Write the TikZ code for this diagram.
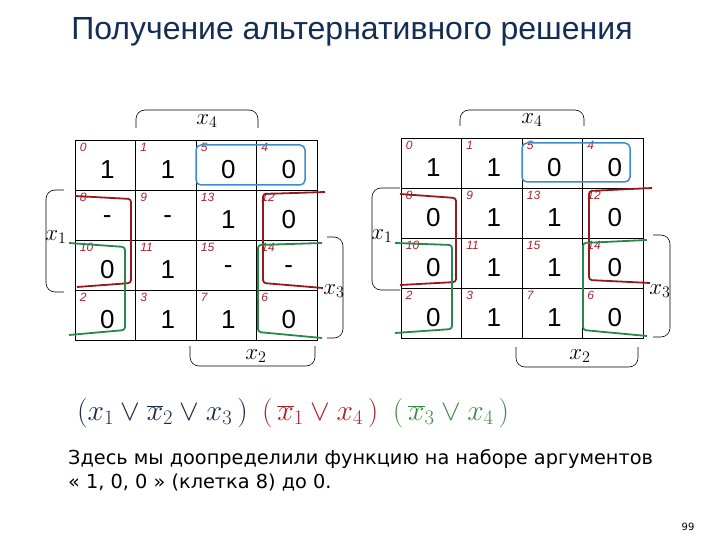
\RequirePackage{fix-cm}
\documentclass[tikz,border=0pt]{standalone}
\usepackage{fontspec}
\setmainfont{Liberation Sans}
\newfontfamily\notefont{DejaVu Sans}
\usepackage{tikz}
\usetikzlibrary{positioning}
\definecolor{titleblue}{RGB}{20,45,85}
\definecolor{idxred}{RGB}{175,35,45}
\definecolor{grpred}{RGB}{150,25,30}
\definecolor{grpgreen}{RGB}{40,135,75}
\definecolor{grpblue}{RGB}{60,140,210}
\definecolor{fnavy}{RGB}{25,40,75}
\definecolor{fred}{RGB}{175,30,35}
\definecolor{fgreen}{RGB}{60,140,70}
\tikzset{
    cell/.style={draw, line width=0.6pt, minimum width=60.5pt, minimum height=50pt, inner sep=0pt},
    idxnum/.style={anchor=north west, xshift=5pt, yshift=-3pt, inner sep=0pt, text=idxred, font=\fontsize{12}{12}\selectfont\itshape},
    val/.style={xshift=2pt, yshift=-5pt, font=\fontsize{26}{26}\selectfont},
    brace/.style={line width=0.6pt, rounded corners=9pt},
    varlab/.style={font=\fontsize{23}{23}\selectfont},
    grp/.style={line width=1.8pt, rounded corners=3pt},
    formula/.style={font=\fontsize{29.5}{29.5}\selectfont, inner sep=0pt}
}

\begin{document}
\begin{tikzpicture}[x=1pt, y=-1pt]
    \useasboundingbox (0,0) rectangle (720,540);
    \node (title) [text=titleblue, font=\fontsize{32}{32}\selectfont] at (352,32) {Получение альтернативного решения};

    % left map
    \begin{scope}[shift={(75,140)}]
        \foreach \i/\v [count=\k from 0] in {0/1,1/1,5/0,4/0,8/-,9/-,13/1,12/0,10/0,11/1,15/-,14/-,2/0,3/1,7/1,6/0} {
            \pgfmathtruncatemacro\r{\k/4}
            \pgfmathtruncatemacro\c{\k-4*\r}
            \node (L\i) [cell, label={[idxnum]north west:\i}, label={[val]center:\v}] at (\c*60.5+30.25, \r*50+25) {};
        }
    \end{scope}
    \draw [grp, grpblue, line width=1.5pt, rounded corners=5pt] (196,145) rectangle (305,185);
    \draw [grp, grpred] (75,196) -- (131,199) -- (131,283) -- (77,287);
    \draw [grp, grpred] (325,192) -- (263,194) -- (263,283) -- (323,288);
    \draw [grp, grpgreen] (69,243) -- (125,247) -- (125,330) -- (69,335);
    \draw [grp, grpgreen] (322,243) -- (258,245) -- (258,332) -- (322,338);
    \draw [brace] (136,128) -- (136,110) -- (258,110) -- (258,128);
    \draw [brace] (64,190) -- (46,190) -- (46,292) -- (64,292);
    \draw [brace] (327,237) -- (343,237) -- (343,338) -- (327,338);
    \draw [brace] (190,346) -- (190,366) -- (315,366) -- (315,346);
    \node (Lx4) [varlab] at (207,121) {$x_4$};
    \node (Lx1) [varlab] at (56,237) {$x_1$};
    \node (Lx3) [varlab] at (334,291) {$x_3$};
    \node (Lx2) [varlab] at (256,356) {$x_2$};

    % right map
    \begin{scope}[shift={(401,138)}]
        \foreach \i/\v [count=\k from 0] in {0/1,1/1,5/0,4/0,8/0,9/1,13/1,12/0,10/0,11/1,15/1,14/0,2/0,3/1,7/1,6/0} {
            \pgfmathtruncatemacro\r{\k/4}
            \pgfmathtruncatemacro\c{\k-4*\r}
            \node (R\i) [cell, label={[idxnum]north west:\i}, label={[val]center:\v}] at (\c*60.5+30.25, \r*50+25) {};
        }
    \end{scope}
    \draw [grp, grpblue, line width=1.5pt, rounded corners=5pt] (522,143) rectangle (630,182);
    \draw [grp, grpred] (400,194) -- (456,198) -- (456,282) -- (400,285);
    \draw [grp, grpred] (652,188) -- (589,191) -- (589,280) -- (650,283);
    \draw [grp, grpgreen] (395,243) -- (452,245) -- (452,329) -- (395,333);
    \draw [grp, grpgreen] (647,240) -- (583,243) -- (583,330) -- (647,336);
    \draw [brace] (460,126) -- (460,110) -- (584,110) -- (584,126);
    \draw [brace] (400,188) -- (372,188) -- (372,290) -- (400,290);
    \draw [brace] (653,235) -- (670,235) -- (670,337) -- (653,337);
    \draw [brace] (516,347) -- (516,367) -- (638,367) -- (638,347);
    \node (Rx4) [varlab] at (532,120) {$x_4$};
    \node (Rx1) [varlab] at (382,236) {$x_1$};
    \node (Rx3) [varlab] at (660,291) {$x_3$};
    \node (Rx2) [varlab] at (580,356) {$x_2$};

    % answer
    \node (f1) [formula, text=fnavy, anchor=west] at (77,413) {$(x_1\vee\overline{x}_2\vee x_3\,)$};
    \node (f2) [formula, text=fred, right=14pt of f1] {$(\,\overline{x}_1\vee x_4\,)$};
    \node (f3) [formula, text=fgreen, right=14pt of f2] {$(\,\overline{x}_3\vee x_4\,)$};

    \node (note) [anchor=north west, align=left, inner sep=0pt, font=\notefont\fontsize{19.3}{24}\selectfont] at (68,449) {Здесь мы доопределили функцию на наборе аргументов\\« 1, 0, 0 » (клетка 8) до 0.};
    \node (page) [font=\notefont\fontsize{10}{10}\selectfont] at (688,527) {99};
\end{tikzpicture}
\end{document}
